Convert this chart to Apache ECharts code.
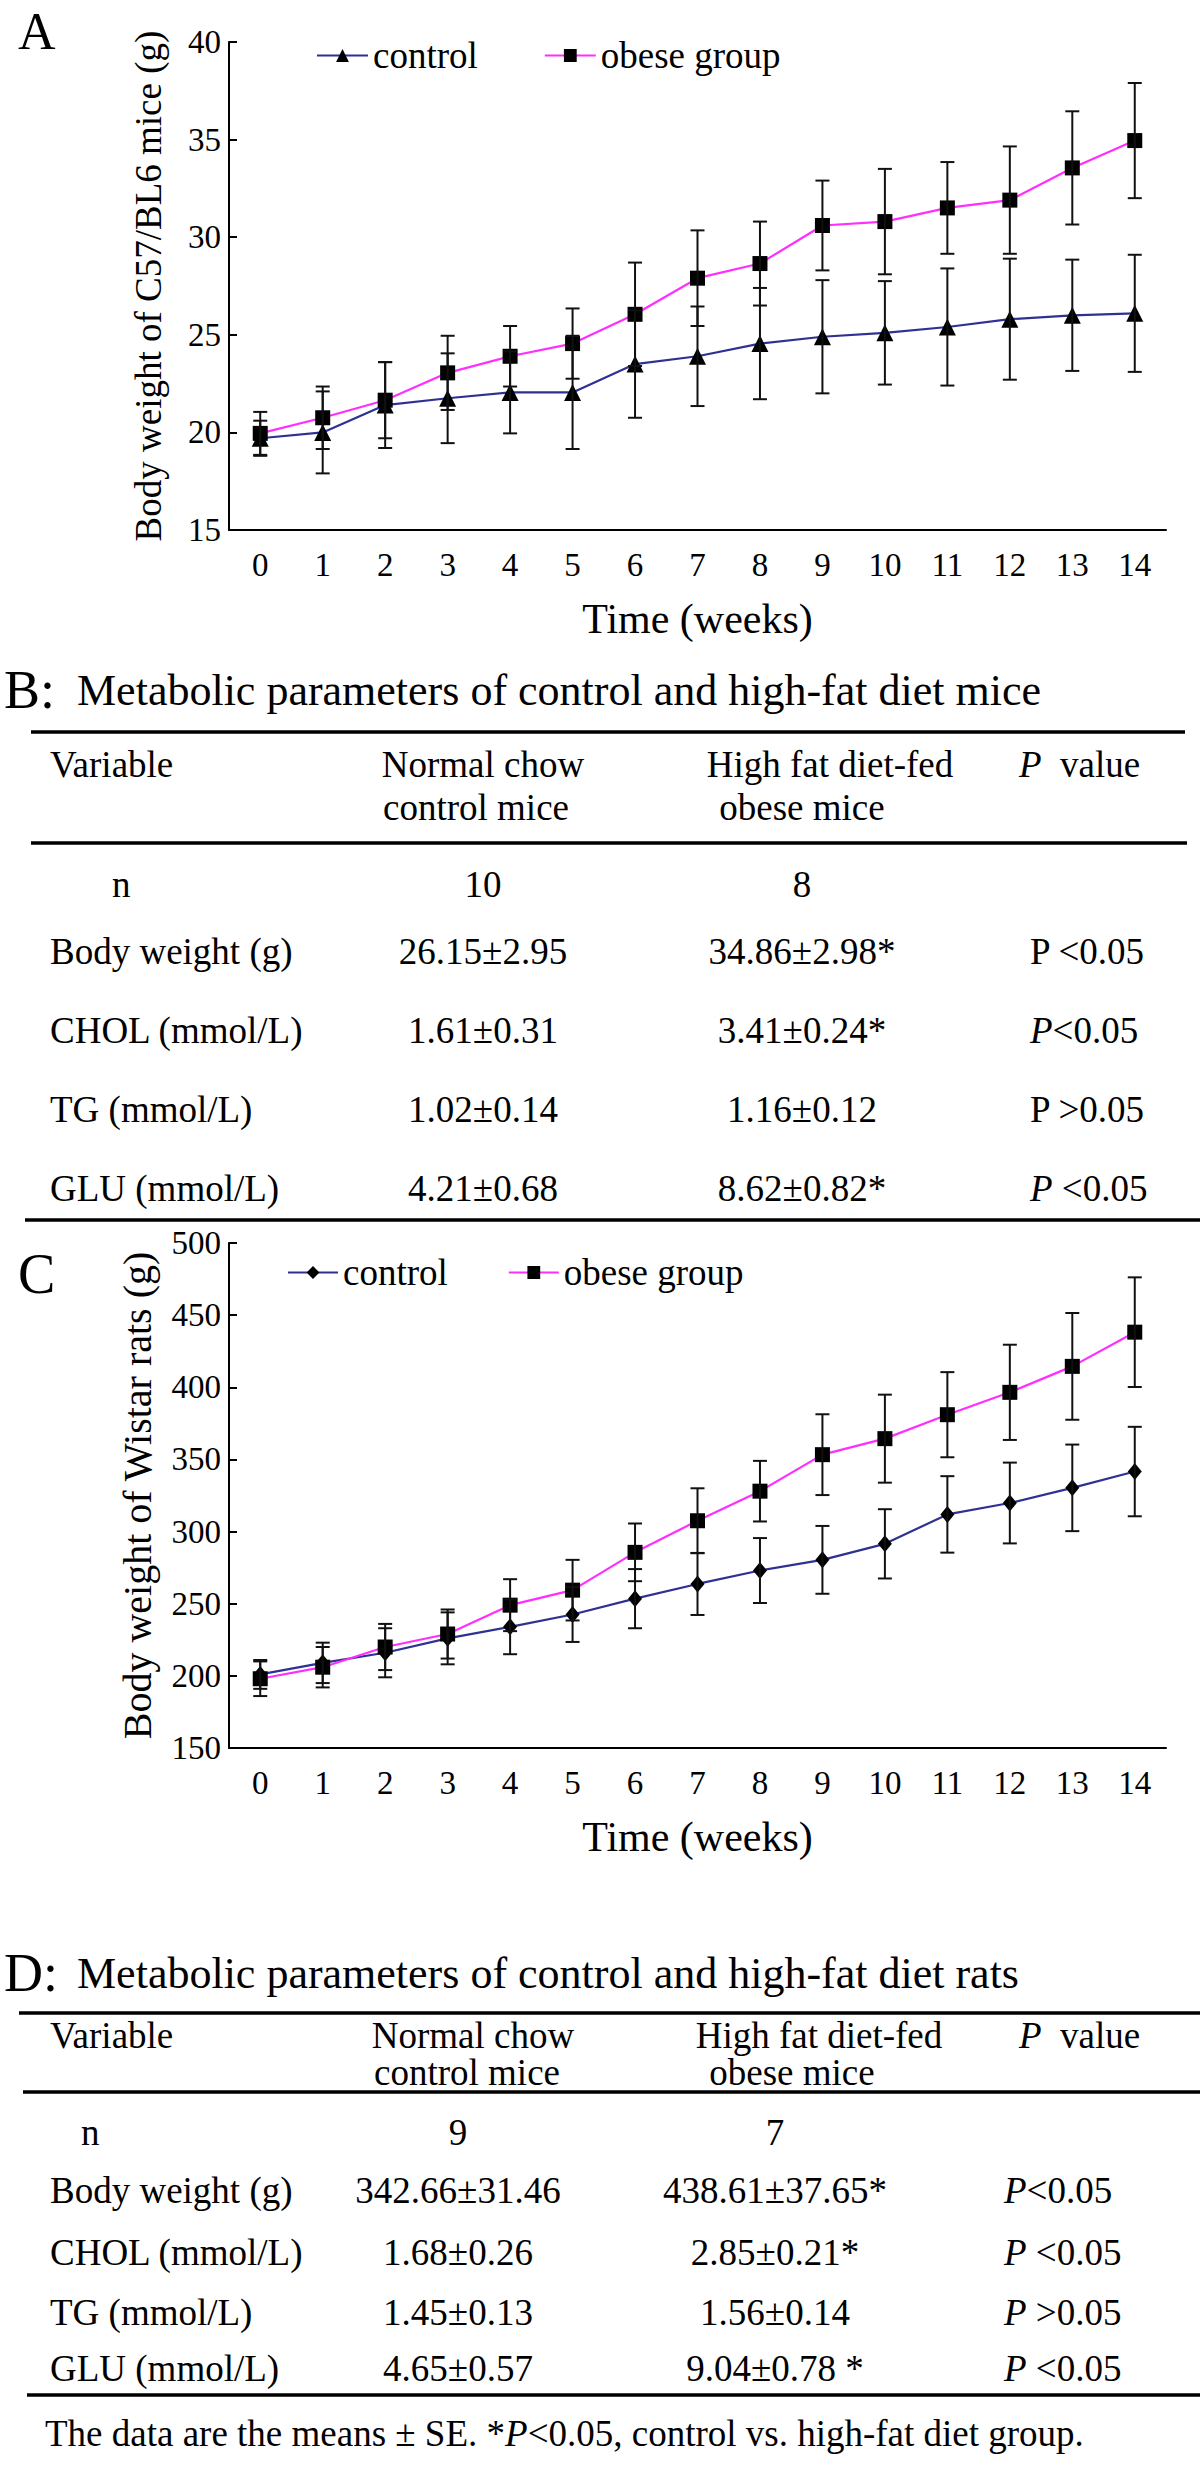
<!DOCTYPE html>
<html><head><meta charset="utf-8">
<script src="https://cdn.jsdelivr.net/npm/echarts@6/dist/echarts.min.js"></script>
<style>html,body{margin:0;padding:0;background:#fff}#main{width:1200px;height:2469px}</style>
</head><body><div id="main"></div>
<script>
// ---------- data ----------
const weeks = ['0','1','2','3','4','5','6','7','8','9','10','11','12','13','14'];

const ctrlMice = [19.7, 20.0, 21.4, 21.75, 22.05, 22.05, 23.5, 23.9, 24.55, 24.9, 25.1, 25.4, 25.8, 26.0, 26.1];
const ctrlMiceErr = [0.9, 2.1, 2.2, 2.3, 2.1, 2.9, 2.75, 2.55, 2.85, 2.9, 2.65, 3.0, 3.1, 2.85, 3.0];
const obeseMice = [19.95, 20.75, 21.65, 23.05, 23.9, 24.55, 26.05, 27.9, 28.65, 30.6, 30.8, 31.5, 31.9, 33.55, 34.95];
const obeseMiceErr = [1.1, 1.6, 1.95, 1.9, 1.55, 1.8, 2.65, 2.45, 2.15, 2.3, 2.7, 2.35, 2.75, 2.9, 2.95];

const ctrlRats = [201, 209, 216, 226, 234, 242.5, 253.5, 263.7, 273, 280.4, 291.5, 311.9, 319.8, 330.3, 341.6];
const ctrlRatsErr = [10, 14, 17, 18, 19, 19, 20.5, 21.5, 22.5, 23.5, 24, 26.5, 28, 30, 31];
const obeseRats = [198, 206, 220, 229, 249, 259.4, 285.6, 307.5, 328, 353.3, 364.4, 381, 396.5, 414.5, 438.2];
const obeseRatsErr = [12, 14, 16, 17, 18, 21, 20, 22.5, 21, 28, 30.5, 29.5, 33, 37, 38];

const yRangeMice = [15, 40, 5];
const yRangeRats = [150, 500, 50];

const legendNames = { controlA: 'control', obeseA: 'obese group', controlC: 'control', obeseC: 'obese group' };

const titleB = 'Metabolic parameters of control and high-fat diet mice';
const titleD = 'Metabolic parameters of control and high-fat diet rats';
const headerCols = ['Variable', 'Normal chow', 'control mice', 'High fat diet-fed', 'obese mice', '{i|P}  value'];

const tableB = [
  ['n', '10', '8', ''],
  ['Body weight (g)', '26.15±2.95', '34.86±2.98*', 'P <0.05'],
  ['CHOL (mmol/L)', '1.61±0.31', '3.41±0.24*', '{i|P}<0.05'],
  ['TG (mmol/L)', '1.02±0.14', '1.16±0.12', 'P >0.05'],
  ['GLU (mmol/L)', '4.21±0.68', '8.62±0.82*', '{i|P} <0.05']
];
const tableD = [
  ['n', '9', '7', ''],
  ['Body weight (g)', '342.66±31.46', '438.61±37.65*', '{i|P}<0.05'],
  ['CHOL (mmol/L)', '1.68±0.26', '2.85±0.21*', '{i|P} <0.05'],
  ['TG (mmol/L)', '1.45±0.13', '1.56±0.14', '{i|P} >0.05'],
  ['GLU (mmol/L)', '4.65±0.57', '9.04±0.78 *', '{i|P} <0.05']
];
const footnote = 'The data are the means ± SE. *{i|P}<0.05, control vs. high-fat diet group.';

// ---------- chart ----------
const FONT = 'Liberation Serif';
const chart = echarts.init(document.getElementById('main'), null, { renderer: 'svg', width: 1200, height: 2469 });

function errSeries(name, gi, vals, errs) {
  return {
    type: 'custom', name: name, xAxisIndex: gi, yAxisIndex: gi, silent: true, z: 5,
    encode: { x: 0, y: [1, 2] },
    data: vals.map((v, i) => [i, v - errs[i], v + errs[i]]),
    renderItem(params, api) {
      const lo = api.coord([api.value(0), api.value(1)]);
      const hi = api.coord([api.value(0), api.value(2)]);
      const hw = 7;
      const st = { stroke: '#111', lineWidth: 2 };
      return { type: 'group', children: [
        { type: 'line', shape: { x1: lo[0], y1: lo[1], x2: hi[0], y2: hi[1] }, style: st },
        { type: 'line', shape: { x1: lo[0] - hw, y1: lo[1], x2: lo[0] + hw, y2: lo[1] }, style: st },
        { type: 'line', shape: { x1: hi[0] - hw, y1: hi[1], x2: hi[0] + hw, y2: hi[1] }, style: st }
      ] };
    }
  };
}
function lineSeries(name, gi, vals, symbol, size, color) {
  return {
    type: 'line', name: name, xAxisIndex: gi, yAxisIndex: gi, data: vals,
    symbol: symbol, symbolSize: size, showAllSymbol: true, z: 4,
    itemStyle: { color: '#000' }, lineStyle: { color: color, width: 2.2 },
    emphasis: { disabled: true }
  };
}
function xAx(gi) {
  return {
    type: 'category', gridIndex: gi, data: weeks, boundaryGap: true,
    axisLine: { lineStyle: { color: '#000', width: 2 } },
    axisTick: { inside: true, length: 9, alignWithLabel: false, lineStyle: { color: '#000', width: 2 } },
    axisLabel: { color: '#000', fontFamily: FONT, fontSize: 33, margin: 18, interval: 0 },
    name: 'Time (weeks)', nameLocation: 'middle', nameGap: 68,
    nameTextStyle: { color: '#000', fontFamily: FONT, fontSize: 42 },
    splitLine: { show: false }
  };
}
function yAx(gi, range, name, gap, fs) {
  return {
    type: 'value', gridIndex: gi, min: range[0], max: range[1], interval: range[2],
    axisLine: { show: true, lineStyle: { color: '#000', width: 2 } },
    axisTick: { show: true, inside: true, length: 8, lineStyle: { color: '#000', width: 2 } },
    axisLabel: { color: '#000', fontFamily: FONT, fontSize: 33, margin: 8 },
    splitLine: { show: false },
    name: name, nameLocation: 'middle', nameGap: gap,
    nameTextStyle: { color: '#000', fontFamily: FONT, fontSize: fs }
  };
}

const graphics = [];
function txt(x, y, text, fs, align, extra) {
  graphics.push({ type: 'text', x: x, y: y, silent: true, style: Object.assign({
    text: text, fill: '#000', fontFamily: FONT, fontSize: fs, align: align || 'left', verticalAlign: 'middle',
    rich: { i: { fontStyle: 'italic', fontFamily: FONT, fontSize: fs, fill: '#000' } }
  }, extra || {}) });
}
function rule(x1, x2, y) {
  graphics.push({ type: 'line', silent: true, shape: { x1: x1, y1: y, x2: x2, y2: y }, style: { stroke: '#000', lineWidth: 3.5 } });
}

// panel letters
txt(18, 31, 'A', 52);
txt(18, 1274, 'C', 56);

function table(cfg, rows) {
  txt(4, cfg.titleY, cfg.letter, 54);
  txt(77, cfg.titleY, cfg.title, 44);
  rule(cfg.r1[0], cfg.r1[1], cfg.r1[2]);
  rule(cfg.r2[0], cfg.r2[1], cfg.r2[2]);
  rule(cfg.r3[0], cfg.r3[1], cfg.r3[2]);
  const FS = 37;
  txt(50, cfg.h1, headerCols[0], FS);
  txt(cfg.hc1a, cfg.h1, headerCols[1], FS, 'center');
  txt(cfg.hc1b, cfg.h2, headerCols[2], FS, 'center');
  txt(cfg.hc2a, cfg.h1, headerCols[3], FS, 'center');
  txt(cfg.hc2b, cfg.h2, headerCols[4], FS, 'center');
  txt(cfg.pHead, cfg.h1, headerCols[5], FS);
  rows.forEach((r, k) => {
    const y = cfg.rowsY[k];
    txt(k === 0 ? cfg.nX : 50, y, r[0], FS);
    txt(cfg.c1, y, r[1], FS, 'center');
    txt(cfg.c2, y, r[2], FS, 'center');
    if (r[3]) txt(cfg.c3, y, r[3], FS);
  });
}
table({ letter: 'B:', title: titleB, titleY: 690, r1: [31, 1185, 732], r2: [31, 1187, 843], r3: [25, 1200, 1220],
  h1: 764, h2: 807, hc1a: 483, hc1b: 476, hc2a: 830, hc2b: 802, pHead: 1019,
  rowsY: [884, 951, 1030, 1109, 1188], nX: 112, c1: 483, c2: 802, c3: 1030 }, tableB);
table({ letter: 'D:', title: titleD, titleY: 1973, r1: [19, 1200, 2013], r2: [23, 1200, 2092], r3: [27, 1200, 2395],
  h1: 2035, h2: 2072, hc1a: 473, hc1b: 467, hc2a: 819, hc2b: 792, pHead: 1019,
  rowsY: [2132, 2190, 2252, 2312, 2368], nX: 81, c1: 458, c2: 775, c3: 1004 }, tableD);
txt(45, 2433, footnote, 37);

const legendText = { color: '#000', fontFamily: FONT, fontSize: 37 };
chart.setOption({
  animation: false,
  backgroundColor: '#fff',
  grid: [
    { left: 229, right: 34, top: 42, height: 488 },
    { left: 229, right: 34, top: 1243, height: 505 }
  ],
  xAxis: [xAx(0), xAx(1)],
  yAxis: [
    yAx(0, yRangeMice, 'Body weight of C57/BL6 mice (g)', 62, 37),
    yAx(1, yRangeRats, 'Body weight of Wistar rats (g)', 72, 40)
  ],
  legend: [
    { left: 311, top: 32, itemWidth: 51, itemHeight: 16, itemGap: 66, selectedMode: false,
      data: ['controlA', 'obeseA'], formatter: n => legendNames[n], textStyle: legendText },
    { left: 282, top: 1249, itemWidth: 50, itemHeight: 16, itemGap: 60, selectedMode: false,
      data: ['controlC', 'obeseC'], formatter: n => legendNames[n], textStyle: legendText }
  ],
  series: [
    errSeries('errCtrlA', 0, ctrlMice, ctrlMiceErr),
    errSeries('errObeseA', 0, obeseMice, obeseMiceErr),
    lineSeries('controlA', 0, ctrlMice, 'triangle', 17, '#2E3192'),
    lineSeries('obeseA', 0, obeseMice, 'rect', 15, '#FF2EFF'),
    errSeries('errCtrlC', 1, ctrlRats, ctrlRatsErr),
    errSeries('errObeseC', 1, obeseRats, obeseRatsErr),
    lineSeries('controlC', 1, ctrlRats, 'diamond', [14, 17], '#2E3192'),
    lineSeries('obeseC', 1, obeseRats, 'rect', 15, '#FF2EFF')
  ],
  graphic: graphics
});
</script></body></html>
